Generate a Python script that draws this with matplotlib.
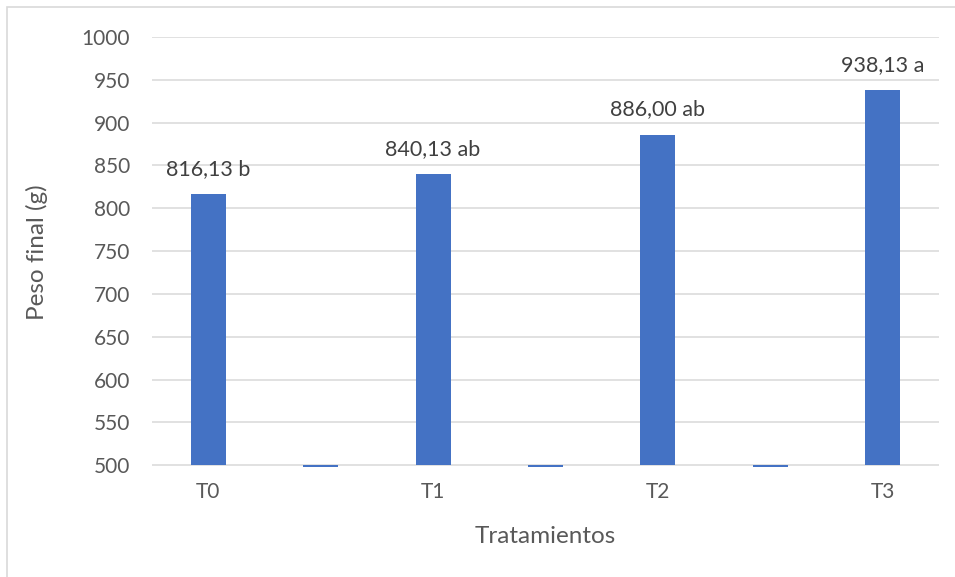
import matplotlib.pyplot as plt
from matplotlib.patches import Rectangle

# Peso final por tratamiento (espacios vacíos entre tratamientos)
categorias = ['T0', '', 'T1', '', 'T2', '', 'T3']
peso = [816.13, 0, 840.13, 0, 886.00, 0, 938.13]
etiquetas = ['816,13 b', '', '840,13 ab', '', '886,00 ab', '', '938,13 a']

base = 500
gris = '#595959'

plt.rcParams['font.family'] = ['Lato', 'DejaVu Sans']

fig = plt.figure(figsize=(9.55, 5.77), dpi=100)
ax = fig.add_axes([0.1592, 0.1912, 0.8240, 0.7447])

# chart frame
fig.patches.append(Rectangle((7 / 955, -0.1), 1.2, 1.1 - 7 / 577,
                             transform=fig.transFigure, fill=False,
                             edgecolor='#d9d9d9', linewidth=1.2))

x = range(len(categorias))
alturas = [v - base for v in peso]
ax.bar(x, alturas, bottom=base, width=0.31, color='#4472c4', zorder=3)

for i, (v, t) in enumerate(zip(peso, etiquetas)):
    if t:
        ax.annotate(t, (i, v), xytext=(0, 11), textcoords='offset points',
                    ha='center', va='bottom', fontsize=15.5, color='#404040')

ax.set_xlim(-0.5, len(categorias) - 0.5)
ax.set_ylim(498.3, 1000)
ax.set_yticks(range(500, 1001, 50))
ax.set_xticks(list(x))
ax.set_xticklabels(categorias)

ax.grid(axis='y', color='#d9d9d9', linewidth=1.1, zorder=0)
for s in ['top', 'right', 'left', 'bottom']:
    ax.spines[s].set_visible(False)
ax.tick_params(axis='both', length=0, labelsize=15, colors=gris)
ax.tick_params(axis='y', pad=16)
ax.tick_params(axis='x', pad=11)

ax.set_ylabel('Peso final (g)', fontsize=17.5, color=gris, labelpad=24)
ax.set_xlabel('Tratamientos', fontsize=17.5, color=gris, labelpad=17)

fig.savefig('out.png', dpi=100)
